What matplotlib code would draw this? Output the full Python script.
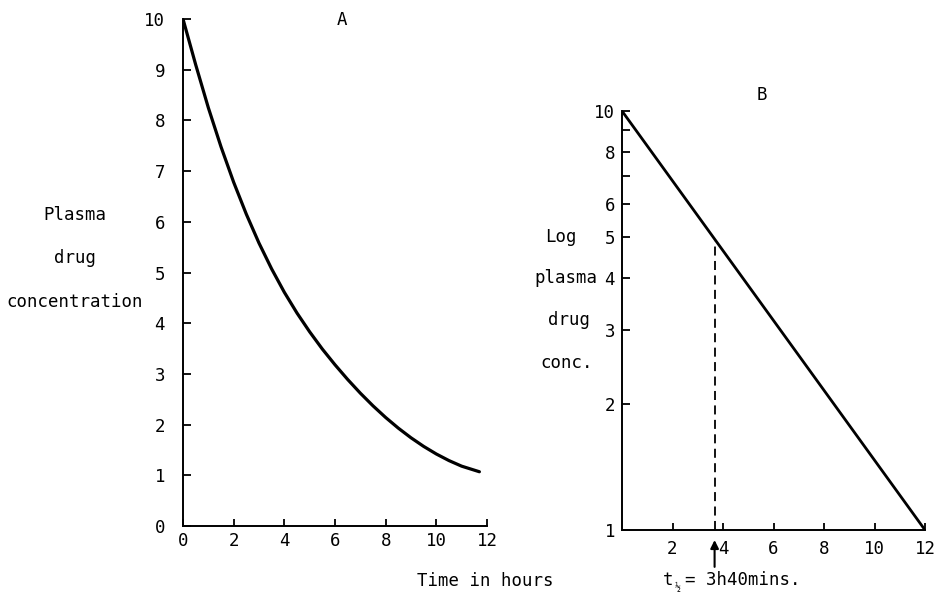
import matplotlib
matplotlib.use("Agg")
import matplotlib.pyplot as plt

# ---- Data ----
# Panel A: plasma drug concentration vs time (linear scale)
time_a = [0, 0.5, 1, 1.5, 2, 2.5, 3, 3.5, 4, 4.5, 5, 5.5, 6, 6.5, 7, 7.5,
          8, 8.5, 9, 9.5, 10, 10.5, 11, 11.7]
conc_a = [10.0, 9.10, 8.25, 7.48, 6.78, 6.15, 5.58, 5.07, 4.61, 4.20, 3.83,
          3.49, 3.18, 2.89, 2.62, 2.37, 2.14, 1.93, 1.74, 1.57, 1.42, 1.29,
          1.18, 1.07]
# Panel B: log plasma drug concentration vs time
time_b = [0, 12]
conc_b = [10, 1]
half_life = 3.667          # 3h40mins
half_conc = 4.9            # top of the dashed marker

a_yticks = [0, 1, 2, 3, 4, 5, 6, 7, 8, 9, 10]
a_xticks = [0, 2, 4, 6, 8, 10, 12]
b_yticks = [1, 2, 3, 4, 5, 6, 7, 8, 9, 10]
b_ylabels = ["1", "2", "3", "4", "5", "6", "", "8", "", "10"]
b_xticks = [2, 4, 6, 8, 10, 12]

FONT = "DejaVu Sans Mono"
FS = 12.5
plt.rcParams["font.family"] = [FONT]

W, H = 944, 594
fig = plt.figure(figsize=(W / 100, H / 100), dpi=100)


def fx(px):
    return px / W


def fy(py):
    return 1 - py / H


def style(ax):
    for s in ("top", "right"):
        ax.spines[s].set_visible(False)
    for s in ("left", "bottom"):
        ax.spines[s].set_linewidth(1.4)
    ax.tick_params(direction="in", width=1.3, labelsize=FS)


# ---- Panel A ----
axA = fig.add_axes([fx(183), fy(526), fx(487) - fx(183), fy(19) - fy(526)])
axA.plot(time_a, conc_a, color="black", lw=2.3, solid_capstyle="round",
         solid_joinstyle="round")
axA.set_xlim(0, 12)
axA.set_ylim(0, 10)
axA.set_xticks(a_xticks)
axA.set_yticks(a_yticks)
style(axA)
axA.tick_params(axis="y", length=6, pad=13)
axA.tick_params(axis="x", length=5, pad=4)

# ---- Panel B ----
axB = fig.add_axes([fx(622), fy(530), fx(925) - fx(622), fy(111) - fy(530)])
axB.plot(time_b, conc_b, color="black", lw=2.0)
axB.set_yscale("log")
axB.set_xlim(0, 12)
axB.set_ylim(1, 10)
axB.set_yticks(b_yticks)
axB.set_yticklabels(b_ylabels)
axB.yaxis.set_minor_locator(matplotlib.ticker.NullLocator())
axB.set_xticks(b_xticks)
style(axB)
axB.tick_params(axis="y", length=6, pad=5)
axB.tick_params(axis="x", length=5, pad=7)
axB.vlines(half_life, 1, half_conc, colors="black", lw=1.3,
           linestyles=(0, (5, 3)))
axB.annotate("", xy=(half_life, -0.024), xytext=(half_life, -0.088),
             xycoords=axB.get_xaxis_transform(),
             textcoords=axB.get_xaxis_transform(),
             arrowprops=dict(arrowstyle="-|>", lw=1.5, color="black",
                             mutation_scale=12, shrinkA=0, shrinkB=0),
             annotation_clip=False)


# ---- Texts ----
def txt(px, py, s, size=FS, ha="center"):
    fig.text(fx(px), fy(py), s, fontsize=size, ha=ha, va="center",
             family=FONT)


txt(342, 20, "A")
txt(762, 95, "B")
txt(75, 215, "Plasma")
txt(75, 258, "drug")
txt(75, 302, "concentration")
txt(561, 237, "Log")
txt(566, 278, "plasma")
txt(569, 320, "drug")
txt(567, 363, "conc.")
txt(485, 581, "Time in hours")
txt(663, 580, "t", ha="left")
txt(675, 587, "½", size=7, ha="left")
txt(685, 580, "= 3h40mins.", ha="left")

fig.savefig("out.png", dpi=100)
